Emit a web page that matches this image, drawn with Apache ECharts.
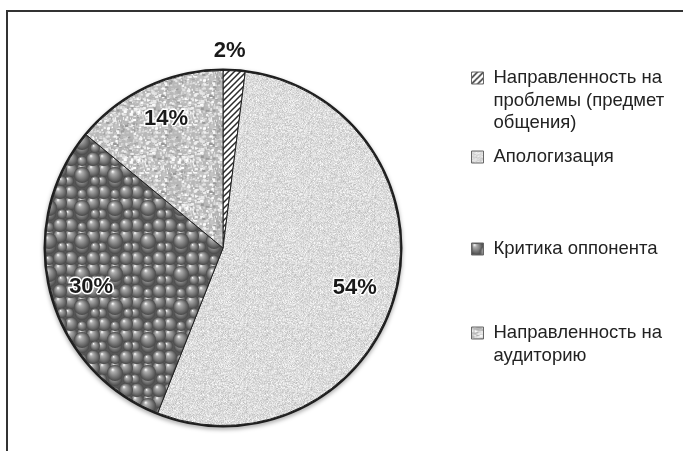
<!DOCTYPE html>
<html><head><meta charset="utf-8">
<script src="https://cdn.jsdelivr.net/npm/echarts@6/dist/echarts.min.js"></script>
<style>html,body{margin:0;padding:0;background:#fff}#c{width:683px;height:451px}</style>
</head><body><div id="c"></div>
<script>
// ---- data ----
const categories = [
  'Направленность на\nпроблемы (предмет\nобщения)',
  'Апологизация',
  'Критика оппонента',
  'Направленность на\nаудиторию'
];
const values = [2, 54, 30, 14];

// ---- textures ----
function rng(seed){return function(){seed|=0;seed=seed+0x6D2B79F5|0;let t=Math.imul(seed^seed>>>15,1|seed);t=t+Math.imul(t^t>>>7,61|t)^t;return((t^t>>>14)>>>0)/4294967296;};}
function mk(w,h){const c=document.createElement('canvas');c.width=w;c.height=h;return c;}
function hatch(){const s=6,c=mk(s,s),g=c.getContext('2d');g.fillStyle='#fff';g.fillRect(0,0,s,s);g.strokeStyle='#2a2a2a';g.lineWidth=1.5;g.beginPath();for(let k=-1;k<=1;k++){g.moveTo(k*s-1,s+1);g.lineTo(k*s+s+1,-1);}g.stroke();return c;}
function noise(){const s=64,c=mk(s,s),g=c.getContext('2d'),d=g.createImageData(s,s),r=rng(7);for(let i=0;i<s*s;i++){const v=Math.round(220+(r()+r()+r()-1.5)*26);d.data[i*4]=d.data[i*4+1]=d.data[i*4+2]=v;d.data[i*4+3]=255;}g.putImageData(d,0,0);return c;}
function bubbles(){const s=33,c=mk(s,s),g=c.getContext('2d');g.fillStyle='#555';g.fillRect(0,0,s,s);
  const balls=[[5,5,7],[27,5,7],[16,16,7],[5,27,7],[27,27,7],[16,3,5],[16,29,5],[3,16,5],[29,16,5],[16,10,8]];
  for(const [x,y,r] of balls){for(const ox of [-s,0,s])for(const oy of [-s,0,s]){const cx=x+ox,cy=y+oy;const gr=g.createRadialGradient(cx-r*0.3,cy-r*0.45,r*0.05,cx,cy,r);gr.addColorStop(0,'#f4f4f4');gr.addColorStop(0.2,'#b0b0b0');gr.addColorStop(0.65,'#767676');gr.addColorStop(1,'#484848');g.fillStyle=gr;g.beginPath();g.arc(cx,cy,r,0,Math.PI*2);g.fill();}}
  return c;}
function weave(){const s=48,c=mk(s,s),g=c.getContext('2d'),r=rng(11);g.fillStyle='#b8b8b8';g.fillRect(0,0,s,s);
  for(let i=0;i<520;i++){const x=r()*s,y=r()*s,w=1+r()*2.5,h=1+r()*2;const q=r();const v=q<0.55?Math.round(215+r()*40):(q<0.8?Math.round(150+r()*30):Math.round(185+r()*20));g.fillStyle='rgb('+v+','+v+','+v+')';for(const ox of [-s,0])for(const oy of [-s,0])g.fillRect(x+ox,y+oy,w,h);}
  return c;}
const fills = [hatch(), noise(), bubbles(), weave()];

// ---- layout / style ----
const CENTER = [223, 248];
const R = 177.5;
const legendCenters = [78, 157, 249, 333];
const LH = 22.5;
const labelShift = [[-2,-61],[0,6],[0,5],[1,-6]];

const chart = echarts.init(document.getElementById('c'), null, {renderer:'canvas'});
const pieData = categories.map((n,i)=>({name:n, value:values[i], itemStyle:{color:{image:fills[i], repeat:'repeat'}}}));

chart.setOption({
  animation:false,
  backgroundColor:'#fff',
  graphic:[{type:'rect', silent:true, z:-10, shape:{x:7, y:11, width:720, height:500}, style:{fill:'none', stroke:'#333', lineWidth:2}}],
  legend: categories.map((name,i)=>{
    const lines = name.split('\n').length;
    const box = (2*lines-1)*LH;
    return {data:[name], orient:'vertical', left:471, top:legendCenters[i]-box/2, padding:0,
      itemWidth:12, itemHeight:12, icon:'rect', selectedMode:false,
      itemStyle:{borderColor:'#666', borderWidth:1},
      textStyle:{fontSize:18.5, color:'#222', fontFamily:'Liberation Sans, Arial, sans-serif', lineHeight:LH,
        padding:[(lines-1)*LH,0,0,5], rich:{z:{fontSize:18.5}}}};
  }),
  series:[
    {type:'pie', z:2, center:CENTER, radius:R, startAngle:90, clockwise:true, silent:true,
      data:pieData, label:{show:false}, labelLine:{show:false},
      itemStyle:{borderColor:'#222', borderWidth:1}, emphasis:{disabled:true}},
    {type:'pie', z:1, center:CENTER, radius:[R-3, R+2], silent:true,
      data:[{name:'__ring', value:1}], label:{show:false}, labelLine:{show:false},
      itemStyle:{color:'#1e1e1e', shadowColor:'rgba(0,0,0,0.35)', shadowBlur:4, shadowOffsetY:2}, emphasis:{disabled:true}},
    {type:'pie', z:3, center:CENTER, radius:[R*0.5, R], startAngle:90, clockwise:true, silent:true,
      data:categories.map((n,i)=>({name:n, value:values[i]})),
      itemStyle:{color:'rgba(0,0,0,0)'}, labelLine:{show:false}, emphasis:{disabled:true},
      label:{show:true, position:'inside', formatter:p=>Math.round(p.percent)+'%',
        fontSize:22, fontWeight:'bold', color:'#1a1a1a', fontFamily:'Liberation Sans, Arial, sans-serif',
        textBorderColor:'#fff', textBorderWidth:3},
      labelLayout:p=>({dx:labelShift[p.dataIndex][0], dy:labelShift[p.dataIndex][1]})}
  ]
});
</script></body></html>
